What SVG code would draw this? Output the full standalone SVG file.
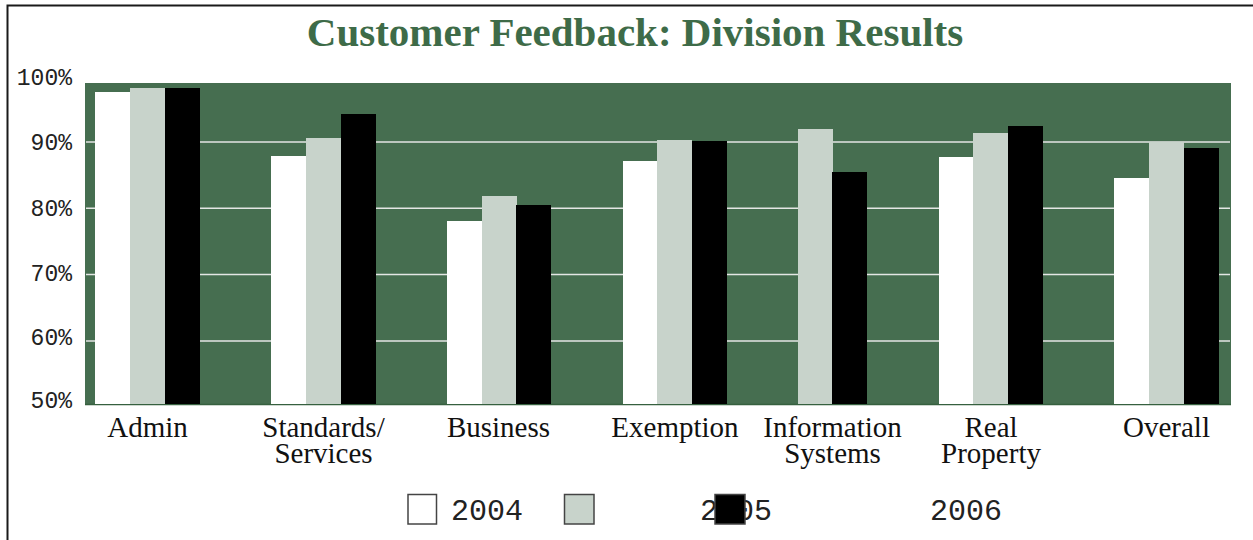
<svg xmlns="http://www.w3.org/2000/svg" width="1253" height="540" viewBox="0 0 1253 540">
<style>
.title{font-family:"Liberation Serif","Times New Roman",serif;font-weight:bold;font-size:41px;fill:#3E6B48}
.ylab{font-family:"Liberation Mono","Courier New",monospace;font-size:23px;fill:#222;text-anchor:end}
.cat{font-family:"Liberation Serif","Times New Roman",serif;font-size:29px;fill:#111;text-anchor:middle}
.leg{font-family:"Liberation Mono","Courier New",monospace;font-size:30px;fill:#222}
.grid{stroke:#e4e6e4;stroke-width:1.5}
.b4{fill:#ffffff}
.b5{fill:#C8D3CB}
.b6{fill:#000000}
.lbox{stroke:#444;stroke-width:1.5}
</style>
<rect x="0" y="0" width="1253" height="540" fill="#ffffff"/>
<rect x="7.5" y="5.5" width="1300" height="600" fill="none" stroke="#1a1a1a" stroke-width="2"/>
<text class="title" x="635" y="46" text-anchor="middle">Customer Feedback: Division Results</text>
<g id="plot">
<rect x="85" y="83" width="1146" height="322" fill="#466E50"/>
<line class="grid" x1="86" y1="142" x2="1230" y2="142"/>
<line class="grid" x1="86" y1="208.3" x2="1230" y2="208.3"/>
<line class="grid" x1="86" y1="274.6" x2="1230" y2="274.6"/>
<line class="grid" x1="86" y1="341" x2="1230" y2="341"/>
<line x1="85" y1="404.5" x2="1231" y2="404.5" stroke="#36603f" stroke-width="1.5"/>
</g>
<g id="yaxis">
<text class="ylab" x="72" y="85">100%</text>
<text class="ylab" x="72" y="150">90%</text>
<text class="ylab" x="72" y="215.5">80%</text>
<text class="ylab" x="72" y="280.5">70%</text>
<text class="ylab" x="72" y="345">60%</text>
<text class="ylab" x="72" y="408">50%</text>
</g>
<g id="admin">
<rect class="b4" x="95" y="92" width="35" height="312"/>
<rect class="b5" x="130" y="88" width="35" height="316"/>
<rect class="b6" x="165" y="88" width="35" height="316"/>
<text class="cat" x="147.5" y="437">Admin</text>
</g>
<g id="standards">
<rect class="b4" x="271" y="156" width="35" height="248"/>
<rect class="b5" x="306" y="138" width="35" height="266"/>
<rect class="b6" x="341" y="114" width="35" height="290"/>
<text class="cat" x="323.5" y="437">Standards/<tspan x="323.5" dy="26">Services</tspan></text>
</g>
<g id="business">
<rect class="b4" x="447" y="221" width="35" height="183"/>
<rect class="b5" x="482" y="196" width="35" height="208"/>
<rect class="b6" x="516" y="205" width="35" height="199"/>
<text class="cat" x="498.5" y="437">Business</text>
</g>
<g id="exemption">
<rect class="b4" x="623" y="161" width="35" height="243"/>
<rect class="b5" x="657" y="140" width="35" height="264"/>
<rect class="b6" x="692" y="141" width="35" height="263"/>
<text class="cat" x="675" y="437">Exemption</text>
</g>
<g id="information-systems">
<rect class="b5" x="798" y="129" width="35" height="275"/>
<rect class="b6" x="832" y="172" width="35" height="232"/>
<text class="cat" x="832.5" y="437">Information<tspan x="832.5" dy="26">Systems</tspan></text>
</g>
<g id="real-property">
<rect class="b4" x="939" y="157" width="35" height="247"/>
<rect class="b5" x="973" y="133" width="35" height="271"/>
<rect class="b6" x="1008" y="126" width="35" height="278"/>
<text class="cat" x="991" y="437">Real<tspan x="991" dy="26">Property</tspan></text>
</g>
<g id="overall">
<rect class="b4" x="1114" y="178" width="35" height="226"/>
<rect class="b5" x="1149" y="142" width="35" height="262"/>
<rect class="b6" x="1184" y="148" width="35" height="256"/>
<text class="cat" x="1166.5" y="437">Overall</text>
</g>
<g id="legend">
<rect class="b4 lbox" x="408" y="494.5" width="28.5" height="29.5"/>
<text class="leg" x="451" y="520">2004</text>
<rect class="b5 lbox" x="564.5" y="494.5" width="29.5" height="29.5"/>
<text class="leg" x="700" y="520">2005</text>
<rect class="b6 lbox" x="715" y="494.5" width="30" height="29.5"/>
<text class="leg" x="930" y="520">2006</text>
</g>
</svg>
